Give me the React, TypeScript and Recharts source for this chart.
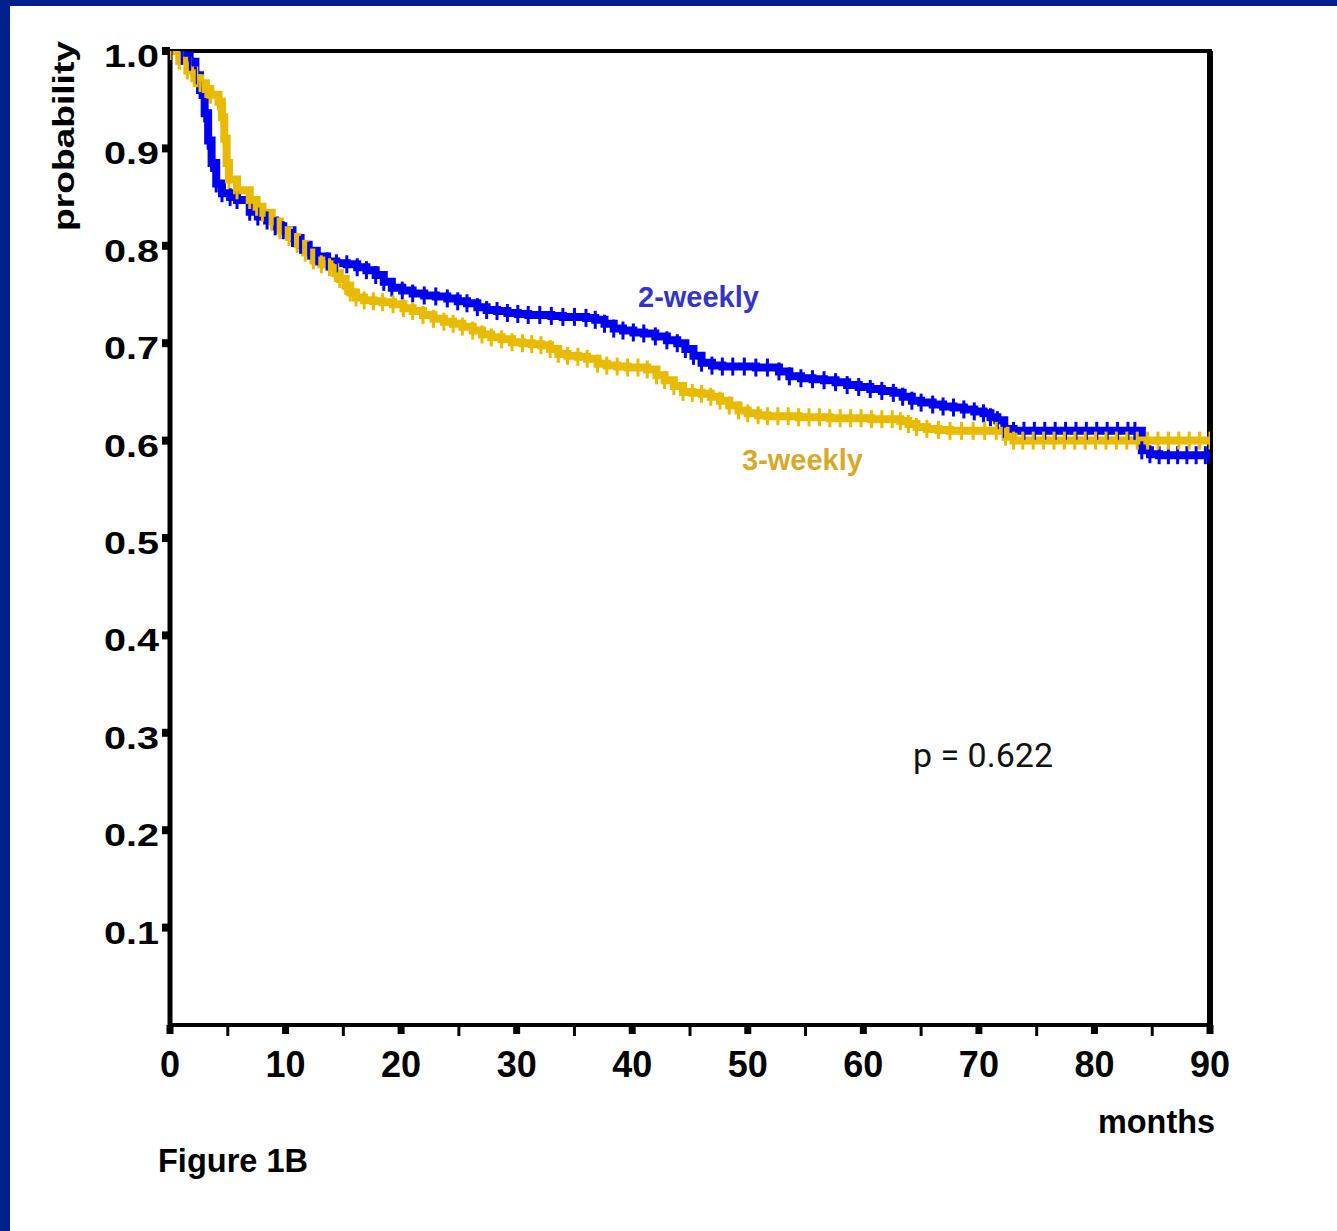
import React from "react";
import {
  LineChart,
  Line,
  XAxis,
  YAxis,
  ReferenceArea,
  ReferenceLine,
} from "recharts";

// Kaplan-Meier estimates (months, probability)
const twoWeeklyMonths = [
  0, 1.0, 1.7, 2.2, 2.6, 3.0, 3.3, 3.6, 4.0, 4.5, 5.2, 5.8, 6.9, 7.6, 8.4, 9.1, 9.8,
  10.6, 11.3, 12.0, 12.7, 13.6, 14.4, 15.3, 16.2, 17.0, 17.8, 18.5, 19.2, 20.1, 21.0,
  22.0, 23.0, 24.0, 24.9, 25.7, 26.6, 27.4, 28.3, 29.2, 30.1, 31.0, 32.0, 33.0, 34.0,
  35.0, 36.0, 36.8, 37.6, 38.4, 39.2, 40.1, 41.0, 42.0, 43.0, 43.9, 44.6, 45.3, 46.0,
  46.9, 47.8, 48.7, 49.7, 50.7, 51.7, 52.7, 53.6, 54.6, 55.6, 56.6, 57.6, 58.6, 59.6,
  60.6, 61.6, 62.6, 63.4, 64.2, 65.0, 66.0, 66.9, 67.8, 68.7, 69.6, 70.4, 71.0, 71.6,
  72.2, 73.0, 73.9, 74.8, 75.7, 76.6, 77.5, 78.4, 79.3, 80.2, 81.1, 82.0, 82.9, 83.5,
  84.1, 84.8, 85.6, 86.4, 87.2, 88.0, 88.8, 89.6, 90,
];
const twoWeeklySurv = [
  1, 0.995, 0.989, 0.975, 0.96, 0.936, 0.908, 0.885, 0.864, 0.854, 0.85, 0.847, 0.835,
  0.83, 0.826, 0.82, 0.816, 0.808, 0.801, 0.795, 0.789, 0.784, 0.782, 0.781, 0.778,
  0.775, 0.77, 0.763, 0.757, 0.754, 0.751, 0.749, 0.748, 0.746, 0.743, 0.741, 0.737,
  0.734, 0.733, 0.731, 0.73, 0.729, 0.729, 0.728, 0.727, 0.727, 0.726, 0.724, 0.72,
  0.715, 0.713, 0.711, 0.71, 0.707, 0.703, 0.7, 0.694, 0.687, 0.68, 0.677, 0.676,
  0.676, 0.676, 0.675, 0.675, 0.671, 0.666, 0.664, 0.663, 0.662, 0.66, 0.657, 0.655,
  0.653, 0.651, 0.649, 0.645, 0.641, 0.639, 0.637, 0.635, 0.634, 0.632, 0.63, 0.628,
  0.624, 0.621, 0.612, 0.61, 0.61, 0.61, 0.61, 0.61, 0.61, 0.61, 0.61, 0.61, 0.61,
  0.61, 0.61, 0.61, 0.59, 0.586, 0.585, 0.585, 0.585, 0.585, 0.585, 0.585, 0.585,
];

const threeWeeklyMonths = [
  0, 0.8, 1.5, 2.1, 2.6, 3.1, 3.5, 4.2, 4.5, 4.7, 4.9, 5.1, 5.8, 6.9, 7.5, 8.0, 8.8,
  9.5, 10.3, 11.0, 11.7, 12.4, 13.1, 13.8, 14.3, 14.7, 15.2, 15.6, 16.1, 16.8, 17.6,
  18.4, 19.3, 20.2, 21.0, 21.9, 22.8, 23.7, 24.5, 25.3, 26.2, 27.0, 27.8, 28.7, 29.6,
  30.5, 31.3, 32.1, 32.9, 33.6, 34.4, 35.3, 36.1, 37.0, 37.8, 38.7, 39.6, 40.5, 41.3,
  42.1, 42.8, 43.6, 44.4, 45.2, 46.0, 46.8, 47.6, 48.4, 49.2, 50.0, 50.9, 51.7, 52.6,
  53.5, 54.4, 55.3, 56.2, 57.1, 58.0, 58.9, 59.8, 60.7, 61.6, 62.5, 63.2, 63.9, 64.6,
  65.5, 66.5, 67.5, 68.5, 69.5, 70.5, 71.5, 72.3, 73.0, 73.8, 74.7, 75.6, 76.5, 77.4,
  78.3, 79.2, 80.1, 81.0, 81.9, 82.8, 83.7, 84.6, 85.5, 86.4, 87.3, 88.2, 89.1, 90,
];
const threeWeeklySurv = [
  1, 0.99, 0.98, 0.972, 0.967, 0.961, 0.955, 0.948, 0.932, 0.91, 0.885, 0.868, 0.857,
  0.847, 0.84, 0.834, 0.825, 0.816, 0.809, 0.802, 0.793, 0.785, 0.781, 0.778, 0.772,
  0.766, 0.759, 0.752, 0.747, 0.744, 0.743, 0.742, 0.74, 0.736, 0.733, 0.729, 0.725,
  0.722, 0.72, 0.717, 0.713, 0.709, 0.706, 0.704, 0.701, 0.7, 0.699, 0.698, 0.694,
  0.689, 0.687, 0.686, 0.684, 0.679, 0.677, 0.676, 0.675, 0.675, 0.673, 0.667, 0.662,
  0.656, 0.65, 0.649, 0.648, 0.645, 0.641, 0.636, 0.631, 0.628, 0.626, 0.625, 0.625,
  0.625, 0.624, 0.624, 0.624, 0.623, 0.623, 0.623, 0.623, 0.622, 0.622, 0.622, 0.62,
  0.617, 0.614, 0.612, 0.611, 0.61, 0.61, 0.61, 0.61, 0.61, 0.604, 0.6, 0.6, 0.6, 0.6,
  0.6, 0.6, 0.6, 0.6, 0.6, 0.6, 0.6, 0.6, 0.6, 0.6, 0.6, 0.6, 0.6, 0.6, 0.6, 0.6, 0.6,
];

const yTicks = [0.1, 0.2, 0.3, 0.4, 0.5, 0.6, 0.7, 0.8, 0.9, 1.0];
const xTicks = [0, 5, 10, 15, 20, 25, 30, 35, 40, 45, 50, 55, 60, 65, 70, 75, 80, 85, 90];

const twoWeeklyData = twoWeeklyMonths.map((t, i) => ({ t, s: twoWeeklySurv[i] }));
const threeWeeklyData = threeWeeklyMonths.map((t, i) => ({ t, s: threeWeeklySurv[i] }));

const FONT = "'Liberation Sans', Arial, sans-serif";
const BLUE = "#0000f0";
const GOLD = "#e8bb00";
const FRAME = "#00208a";

const censorMark = (color: string) => (props: any) => {
  const { cx, cy, index } = props;
  if (cx == null || cy == null) return <g key={`e-${index}`} />;
  return (
    <line
      key={`c-${color}-${index}`}
      x1={cx}
      x2={cx}
      y1={cy - 9}
      y2={cy + 9}
      stroke={color}
      strokeWidth={3}
    />
  );
};

const YTick = (props: any) => {
  const { x, y, payload } = props;
  return (
    <g>
      <line x1={x - 8} x2={x} y1={y} y2={y} stroke="#000" strokeWidth={8} />
      <text
        x={x - 11}
        y={y + 16}
        textAnchor="end"
        fontFamily={FONT}
        fontWeight={700}
        fontSize={32}
        textLength={55}
        lengthAdjust="spacingAndGlyphs"
        fill="#000"
      >
        {Number(payload.value).toFixed(1)}
      </text>
    </g>
  );
};

const XTick = (props: any) => {
  const { x, y, payload } = props;
  const major = payload.value % 10 === 0;
  return (
    <g>
      <line
        x1={x}
        x2={x}
        y1={y}
        y2={y + (major ? 9 : 11)}
        stroke="#000"
        strokeWidth={major ? 7 : 3}
      />
      {major && (
        <text
          x={x}
          y={y + 52}
          textAnchor="middle"
          fontFamily={FONT}
          fontWeight={700}
          fontSize={36}
          fill="#000"
        >
          {payload.value}
        </text>
      )}
    </g>
  );
};

export default function App() {
  return (
    <div
      style={{
        position: "absolute",
        left: 0,
        top: 0,
        width: 1337,
        height: 1231,
        background: "#fff",
        overflow: "hidden",
      }}
    >
      <div style={{ position: "absolute", left: 0, top: 0, width: 1337, height: 6, background: FRAME }} />
      <div style={{ position: "absolute", left: 0, top: 0, width: 10, height: 1231, background: FRAME }} />
      <div style={{ position: "absolute", left: 0, top: 0 }}>
        <LineChart
          width={1337}
          height={1231}
          margin={{ top: 51, right: 127, bottom: 136, left: 99 }}
        >
          <ReferenceArea
            x1={0}
            x2={90}
            y1={0}
            y2={1}
            fill="none"
            stroke="#000"
            strokeWidth={4}
            fillOpacity={0}
            ifOverflow="visible"
          />
          <ReferenceLine x={90} stroke="#000" strokeWidth={6} ifOverflow="visible" />
          <XAxis
            dataKey="t"
            type="number"
            domain={[0, 90]}
            ticks={xTicks}
            interval={0}
            height={70}
            tickSize={0}
            tickMargin={0}
            tickLine={false}
            axisLine={{ stroke: "#000", strokeWidth: 4 }}
            tick={<XTick />}
            allowDataOverflow
          />
          <YAxis
            type="number"
            domain={[0, 1]}
            ticks={yTicks}
            interval={0}
            width={71}
            tickSize={0}
            tickMargin={0}
            tickLine={false}
            axisLine={{ stroke: "#000", strokeWidth: 5 }}
            tick={<YTick />}
            allowDataOverflow
          />
          <Line
            data={twoWeeklyData}
            dataKey="s"
            type="stepAfter"
            stroke={BLUE}
            strokeWidth={8}
            dot={censorMark(BLUE)}
            activeDot={false}
            isAnimationActive={false}
          />
          <Line
            data={threeWeeklyData}
            dataKey="s"
            type="stepAfter"
            stroke={GOLD}
            strokeWidth={8}
            dot={censorMark(GOLD)}
            activeDot={false}
            isAnimationActive={false}
          />
        </LineChart>
      </div>
      <svg
        width={1337}
        height={1231}
        style={{ position: "absolute", left: 0, top: 0, pointerEvents: "none" }}
      >
        <text
          x={74}
          y={136}
          transform="rotate(-90, 74, 136)"
          textAnchor="middle"
          fontFamily={FONT}
          fontWeight={700}
          fontSize={29}
          textLength={190}
          lengthAdjust="spacingAndGlyphs"
          fill="#000"
        >
          probability
        </text>
        <text x={638} y={307} fontFamily={FONT} fontWeight={700} fontSize={29} fill="#3535c5">
          2-weekly
        </text>
        <text x={742} y={470} fontFamily={FONT} fontWeight={700} fontSize={29} fill="#d6a92a">
          3-weekly
        </text>
        <text x={913} y={767} fontFamily="Roboto, sans-serif" fontSize={34} fill="#111">
          p = 0.622
        </text>
        <text
          x={1098}
          y={1133}
          fontFamily={FONT}
          fontWeight={700}
          fontSize={33}
          textLength={117}
          lengthAdjust="spacingAndGlyphs"
          fill="#000"
        >
          months
        </text>
        <text
          x={158}
          y={1172}
          fontFamily={FONT}
          fontWeight={700}
          fontSize={33}
          textLength={150}
          lengthAdjust="spacingAndGlyphs"
          fill="#000"
        >
          Figure 1B
        </text>
      </svg>
    </div>
  );
}
